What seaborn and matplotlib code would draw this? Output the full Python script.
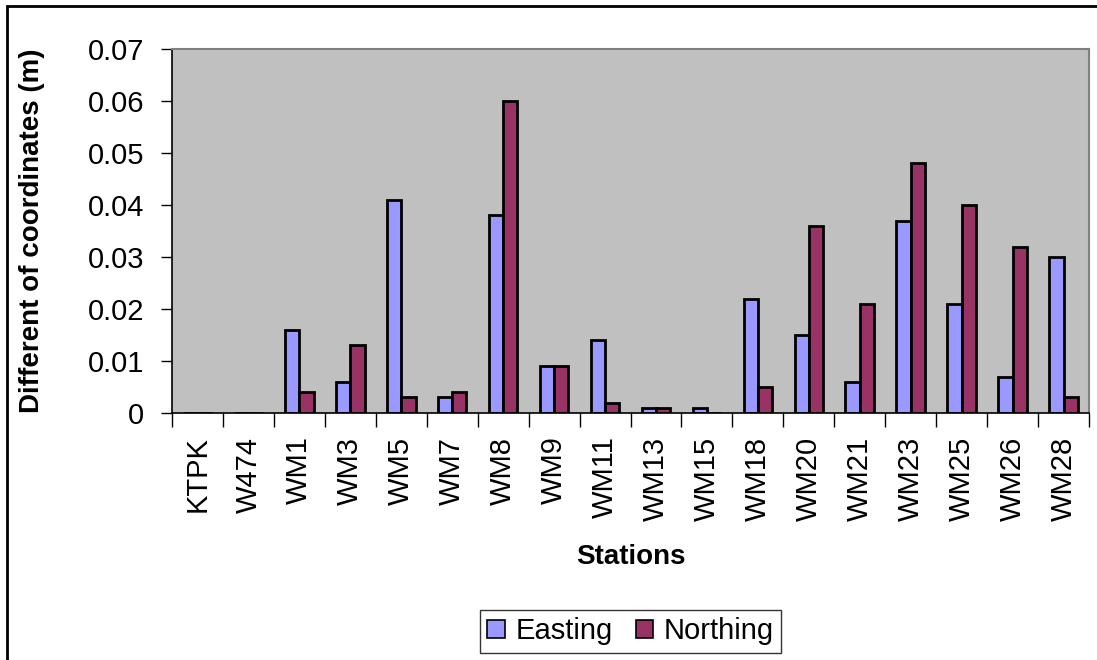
import numpy as np
import pandas as pd
import matplotlib
matplotlib.use("Agg")
import matplotlib.pyplot as plt
import seaborn as sns
from matplotlib.patches import Rectangle
from matplotlib.ticker import FixedLocator

stations = ["KTPK", "W474", "WM1", "WM3", "WM5", "WM7", "WM8", "WM9", "WM11",
            "WM13", "WM15", "WM18", "WM20", "WM21", "WM23", "WM25", "WM26", "WM28"]
easting = [0, 0, 0.016, 0.006, 0.041, 0.003, 0.038, 0.009, 0.014,
           0.001, 0.001, 0.022, 0.015, 0.006, 0.037, 0.021, 0.007, 0.030]
northing = [0, 0, 0.004, 0.013, 0.003, 0.004, 0.060, 0.009, 0.002,
            0.001, 0.0, 0.005, 0.036, 0.021, 0.048, 0.040, 0.032, 0.003]
series_names = ["Easting", "Northing"]
yticks = [0, 0.01, 0.02, 0.03, 0.04, 0.05, 0.06, 0.07]
ytick_labels = ["0", "0.01", "0.02", "0.03", "0.04", "0.05", "0.06", "0.07"]

df = pd.DataFrame({
    "Station": stations * 2,
    "Value": easting + northing,
    "Component": [series_names[0]] * len(stations) + [series_names[1]] * len(stations),
})

sns.set_theme(style="white")
plt.rcParams["font.family"] = ["Liberation Sans", "DejaVu Sans"]
plt.rcParams["text.color"] = "black"
plt.rcParams["axes.labelcolor"] = "black"
plt.rcParams["xtick.color"] = "black"
plt.rcParams["ytick.color"] = "black"

fig = plt.figure(figsize=(10.97, 6.60), dpi=100)
W, H = 1097, 660
left, right, top, bottom = 172, 1089, 49, 413
ax = fig.add_axes([left / W, 1 - bottom / H, (right - left) / W, (bottom - top) / H])
ax.set_facecolor("#C0C0C0")

sns.barplot(data=df, x="Station", y="Value", hue="Component", order=stations,
            hue_order=series_names, palette=["#9999FF", "#993366"],
            width=0.56, gap=0, edgecolor="black", linewidth=2.0,
            saturation=1, ax=ax, errorbar=None)

ax.set_xlim(-0.5, len(stations) - 0.5)
ax.set_ylim(0, 0.07)
ax.set_yticks(yticks)
ax.set_yticklabels(ytick_labels)

# x ticks at category boundaries
ax.xaxis.set_minor_locator(FixedLocator(np.arange(-0.5, len(stations), 1.0)))
ax.tick_params(axis="x", which="major", length=0, pad=17, labelsize=21, rotation=90,
               labelcolor="black")
ax.tick_params(axis="x", which="minor", length=10, width=1, color="black", direction="out", bottom=True)
ax.tick_params(axis="y", which="major", length=8, width=1, color="black", direction="out", left=True,
               pad=12, labelsize=21, labelcolor="black")
for lab in ax.get_xticklabels():
    lab.set_va("top")

for s in ["left", "bottom"]:
    ax.spines[s].set_color("black")
    ax.spines[s].set_linewidth(1.2)
for s in ["top", "right"]:
    ax.spines[s].set_color("#808080")
    ax.spines[s].set_linewidth(1.5)

ax.set_ylabel("Different of coordinates (m)", fontsize=20, fontweight="bold", color="black")
ax.yaxis.set_label_coords(-0.138, 0.5)
ax.set_xlabel("Stations", fontsize=20, fontweight="bold", color="black")
ax.xaxis.set_label_coords(0.5, -0.36)

sns.move_legend(ax, "center", bbox_to_anchor=(0.5, -0.60), ncol=2, title=None,
                fontsize=21, frameon=True, fancybox=False, edgecolor="black",
                handlelength=0.6, handleheight=0.6, handletextpad=0.35,
                columnspacing=0.8, borderpad=0.25, borderaxespad=0)
leg = ax.get_legend()
leg.get_frame().set_linewidth(1.0)
for t in leg.get_texts():
    t.set_color("black")
for h in leg.legend_handles:
    h.set_edgecolor("black")
    h.set_linewidth(1.2)

# outer chart border (left and top visible)
fig.patches.append(Rectangle((7 / W, -0.1), 1.2, 1 - 6 / H + 0.1, transform=fig.transFigure,
                             fill=False, edgecolor="black", linewidth=2, zorder=10))

fig.savefig("out.png", dpi=100)
